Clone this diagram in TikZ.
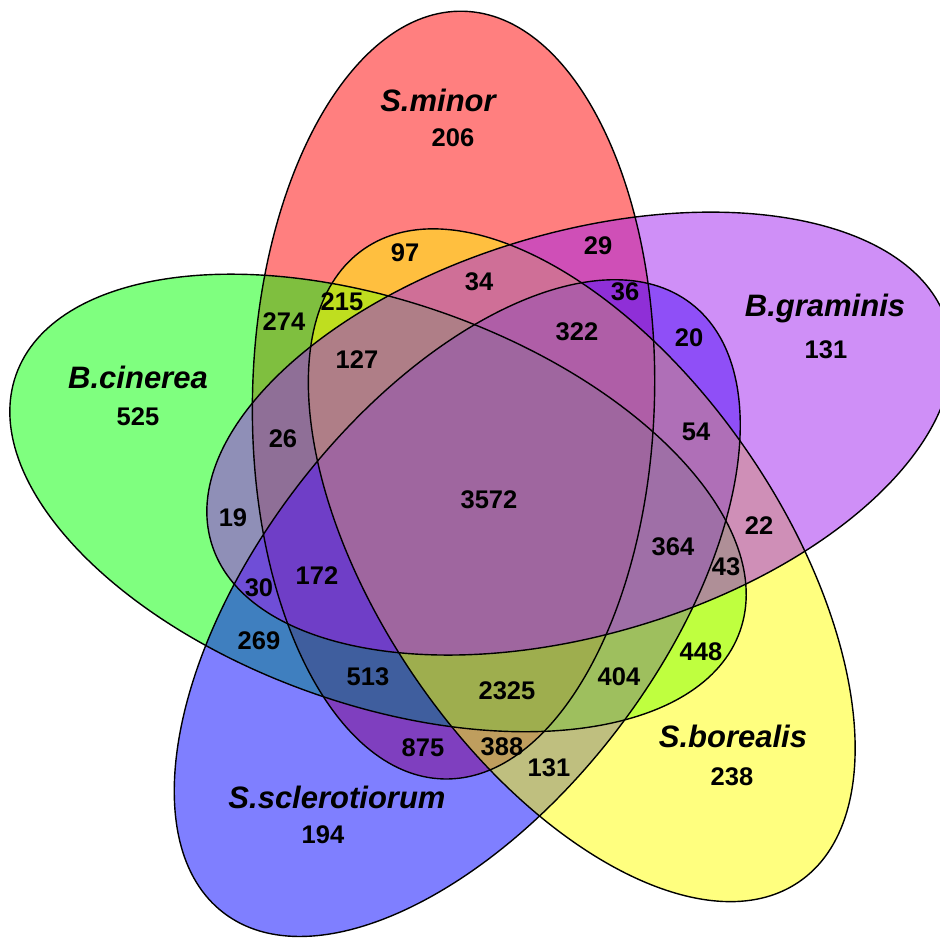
\documentclass[tikz,border=0pt]{standalone}
\usepackage{fontspec}
\setmainfont{Liberation Sans}
\usetikzlibrary{calc}
\definecolor{vred}{RGB}{255,0,0}
\definecolor{vgreen}{RGB}{0,255,0}
\definecolor{vblue}{RGB}{0,0,255}
\definecolor{vyellow}{RGB}{255,255,0}
\definecolor{vpurple}{RGB}{160,32,240}
\begin{document}
\begin{tikzpicture}[x=1pt,y=1pt,
  num/.style={font=\fontsize{25.5}{30}\selectfont\bfseries, inner sep=0pt},
  lab/.style={font=\fontsize{31}{36}\selectfont\bfseries\itshape, inner sep=0pt},
  setfill/.style={fill=#1, fill opacity=0.5},
  setline/.style={draw=black, line width=1.4pt},
  ell/.style={x radius=384pt, y radius=201pt, rotate=#1}]
\useasboundingbox (0,0) rectangle (940,-939);
\clip (0,0) rectangle (940,-939);
\coordinate (C) at (490,-501);
\coordinate (cR) at ($(C)+(109:112)$);
\coordinate (cG) at ($(C)+(181:112)$);
\coordinate (cB) at ($(C)+(253:112)$);
\coordinate (cY) at ($(C)+(325:112)$);
\coordinate (cP) at ($(C)+(37:112)$);
% fills
\fill[setfill=vred]    (cR) ellipse [ell=88.5];
\fill[setfill=vgreen]  (cG) ellipse [ell=160.5];
\fill[setfill=vblue]   (cB) ellipse [ell=232.5];
\fill[setfill=vyellow] (cY) ellipse [ell=304.5];
\fill[setfill=vpurple] (cP) ellipse [ell=16.5];
% outlines
\draw[setline] (cR) ellipse [ell=88.5];
\draw[setline] (cG) ellipse [ell=160.5];
\draw[setline] (cB) ellipse [ell=232.5];
\draw[setline] (cY) ellipse [ell=304.5];
\draw[setline] (cP) ellipse [ell=16.5];
% category labels
\node[lab] (lR) at (438,-100) {S.minor};
\node[num] (nR) at (453,-138) {206};
\node[lab] (lP) at (825,-308) {B.graminis};
\node[num] (nP) at (826,-350) {131};
\node[lab] (lG) at (138,-377) {B.cinerea};
\node[num] (nG) at (138,-417) {525};
\node[lab] (lB) at (337,-797) {S.sclerotiorum};
\node[num] (nB) at (323,-835) {194};
\node[lab] (lY) at (733,-736) {S.borealis};
\node[num] (nY) at (732,-777) {238};
% region counts
\node[num] (r97) at (405,-253) {97};
\node[num] (r34) at (479,-282) {34};
\node[num] (r274) at (284,-322) {274};
\node[num] (r215) at (342,-302) {215};
\node[num] (r127) at (357,-360) {127};
\node[num] (r26) at (283,-439) {26};
\node[num] (r29) at (598,-246) {29};
\node[num] (r36) at (625,-292) {36};
\node[num] (r322) at (577,-332) {322};
\node[num] (r20) at (689,-338) {20};
\node[num] (r54) at (696,-432) {54};
\node[num] (r19) at (233,-518) {19};
\node[num] (r30) at (259,-588) {30};
\node[num] (r172) at (317,-576) {172};
\node[num] (r269) at (259,-641) {269};
\node[num] (r513) at (368,-677) {513};
\node[num] (r875) at (423,-748) {875};
\node[num] (r3572) at (489,-500) {3572};
\node[num] (r364) at (673,-547) {364};
\node[num] (r22) at (759,-526) {22};
\node[num] (r43) at (726,-567) {43};
\node[num] (r448) at (701,-652) {448};
\node[num] (r404) at (619,-677) {404};
\node[num] (r2325) at (507,-691) {2325};
\node[num] (r388) at (502,-747) {388};
\node[num] (r131) at (549,-768) {131};
\end{tikzpicture}
\end{document}
